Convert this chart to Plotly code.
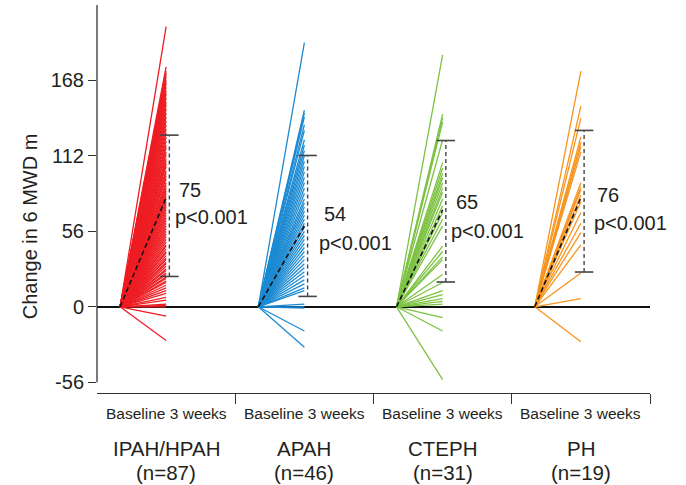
import plotly.graph_objects as go

# ---- data ----
groups = ["IPAH/HPAH", "APAH", "CTEPH", "PH"]
n_labels = ["(n=87)", "(n=46)", "(n=31)", "(n=19)"]
period_label = "Baseline 3 weeks"

ipah = [208, 178, 175, 173, 171, 168, 166, 163, 160, 158,
        155, 152, 150, 147, 144, 141, 138, 135, 132, 129,
        126, 123, 120, 118, 115, 113, 110, 108, 106, 104,
        101, 99, 97, 95, 92, 90, 88, 86, 84, 82,
        80, 78, 76, 74, 72, 70, 68, 66, 64, 62,
        60, 58, 56, 54, 52, 50, 48, 46, 45, 43,
        41, 40, 38, 36, 35, 33, 32, 30, 28, 27,
        25, 24, 22, 21, 19, 18, 16, 14, 12, 10,
        7, 5, 2, 1, 0, -7, -25]
apah = [196, 146, 144, 141, 135, 131, 124, 120, 116, 112,
        108, 104, 100, 96, 92, 88, 84, 80, 77, 74,
        71, 68, 65, 62, 59, 56, 53, 50, 47, 44,
        41, 38, 35, 32, 29, 26, 23, 20, 17, 14,
        12, 2, 0, -1, -18, -30]
cteph = [187, 143, 140, 137, 124, 107, 103, 99, 96, 92,
         88, 85, 80, 75, 70, 65, 60, 45, 41, 37,
         35, 24, 18, 12, 9, 6, 4, 2, -8, -18, -54]
ph = [175, 149, 140, 126, 122, 119, 115, 92, 89, 87,
      83, 78, 70, 62, 55, 46, 25, 6, -26]

series = [ipah, apah, cteph, ph]
mean_end = [81, 60, 72, 81]          # end of dashed mean line
bar_low = [22.5, 7.7, 18.4, 25.8]    # error bar lower ends
bar_high = [127.4, 112.3, 123.4, 130.9]  # error bar upper ends
mean_text = ["75", "54", "65", "76"]
p_text = ["p<0.001", "p<0.001", "p<0.001", "p<0.001"]
y_ticks = [-56, 0, 56, 112, 168]

colors = ["#EE1D23", "#1B8AD3", "#7DC243", "#F7941D"]
font_family = "Liberation Sans, Arial, sans-serif"
txt_color = "#231F20"

fig = go.Figure()

# individual subject lines
for gi, vals in enumerate(series):
    off = gi * 3
    xs, ys = [], []
    for v in vals:
        xs += [off + 0, off + 1, None]
        ys += [0, v, None]
    fig.add_trace(go.Scatter(x=xs, y=ys, mode="lines",
                             line=dict(color=colors[gi], width=1.3),
                             hoverinfo="skip", showlegend=False))

# mean dashed lines and error bars
for gi in range(4):
    off = gi * 3
    fig.add_trace(go.Scatter(x=[off, off + 1], y=[0, mean_end[gi]], mode="lines",
                             line=dict(color="#111111", width=1.6, dash="5px,3px"),
                             hoverinfo="skip", showlegend=False))
    xb = off + 1.07
    fig.add_trace(go.Scatter(x=[xb, xb], y=[bar_low[gi], bar_high[gi]], mode="lines",
                             line=dict(color="#444444", width=1.4, dash="4px,3px"),
                             hoverinfo="skip", showlegend=False))
    for yv in (bar_low[gi], bar_high[gi]):
        fig.add_trace(go.Scatter(x=[xb - 0.2, xb + 0.2], y=[yv, yv], mode="lines",
                                 line=dict(color="#444444", width=1.6),
                                 hoverinfo="skip", showlegend=False))

# text positions (data coords)
mean_pos = [(1.23, 87), (1.38, 68.5), (1.25, 77.5), (1.30, 83)]
p_pos = [(1.145, 67), (1.27, 47.5), (1.14, 56.5), (1.25, 62)]

annotations = []
for gi in range(4):
    off = gi * 3
    annotations.append(dict(x=off + mean_pos[gi][0], y=mean_pos[gi][1], xref="x", yref="y",
                            text=mean_text[gi], showarrow=False, xanchor="left", yanchor="middle",
                            font=dict(family=font_family, size=20, color=txt_color)))
    annotations.append(dict(x=off + p_pos[gi][0], y=p_pos[gi][1], xref="x", yref="y",
                            text=p_text[gi], showarrow=False, xanchor="left", yanchor="middle",
                            font=dict(family=font_family, size=20, color=txt_color)))
    annotations.append(dict(x=off + 1.0, y=-0.053, xref="x", yref="paper",
                            text=period_label, showarrow=False, xanchor="center", yanchor="middle",
                            font=dict(family=font_family, size=15.5, color=txt_color)))
    annotations.append(dict(x=off + 1.0, y=-0.142, xref="x", yref="paper",
                            text=groups[gi], showarrow=False, xanchor="center", yanchor="middle",
                            font=dict(family=font_family, size=20.5, color=txt_color)))
    annotations.append(dict(x=off + 1.0, y=-0.204, xref="x", yref="paper",
                            text=n_labels[gi], showarrow=False, xanchor="center", yanchor="middle",
                            font=dict(family=font_family, size=20.5, color=txt_color)))

annotations.append(dict(x=-0.121, y=0.430, xref="paper", yref="paper",
                        text="Change in 6 MWD m", showarrow=False, textangle=-90,
                        xanchor="center", yanchor="middle",
                        font=dict(family=font_family, size=20, color=txt_color)))

fig.update_layout(
    width=686, height=485,
    margin=dict(l=97, r=36, t=5, b=92),
    paper_bgcolor="white", plot_bgcolor="white",
    showlegend=False,
    annotations=annotations,
    shapes=[dict(type="line", xref="paper", yref="y", x0=0, x1=0, y0=-56, y1=224,
                 line=dict(color="#333333", width=1.3))],
    xaxis=dict(range=[-0.5, 11.5], showgrid=False, zeroline=False,
               showline=True, linecolor="#333333", linewidth=1.3,
               tickvals=[2.5, 5.5, 8.5, 11.5], ticktext=["", "", "", ""],
               ticks="outside", ticklen=10, tickwidth=1.3, tickcolor="#333333",
               fixedrange=True),
    yaxis=dict(range=[-64, 224], showgrid=False, showline=False,
               zeroline=True, zerolinecolor="#111111", zerolinewidth=1.5,
               tickvals=y_ticks, ticktext=[str(v) for v in y_ticks],
               ticks="outside", ticklen=8, tickwidth=1.3, tickcolor="#333333",
               tickfont=dict(family=font_family, size=20, color=txt_color),
               fixedrange=True),
)

fig.write_html("out.html")
